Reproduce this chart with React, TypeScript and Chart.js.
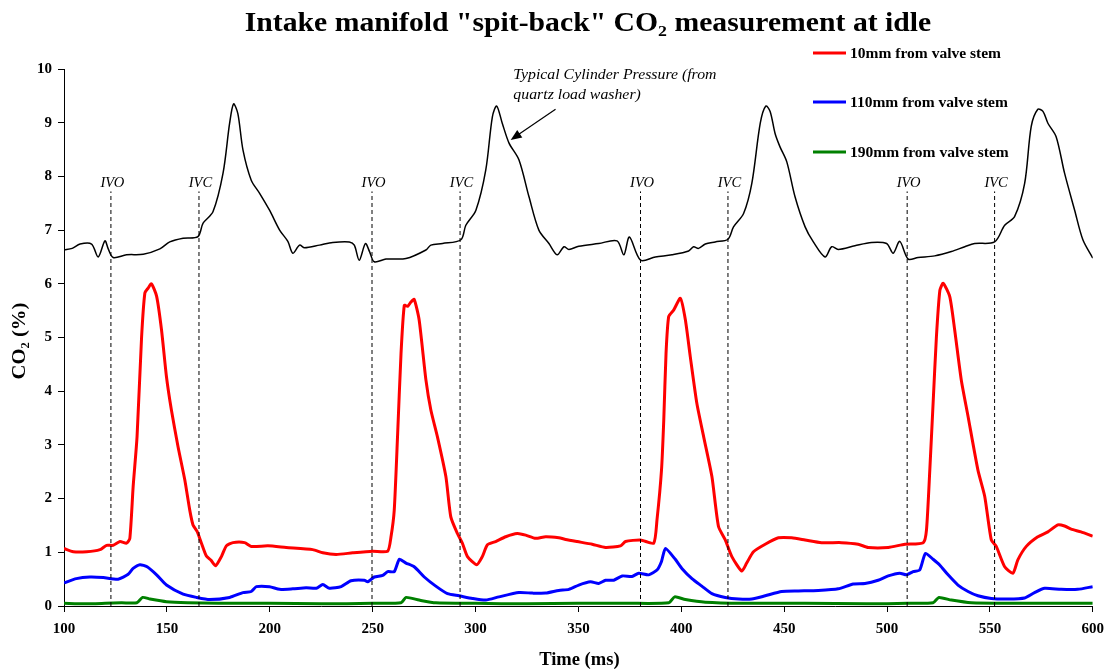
import React, { useEffect, useRef } from "react";
import { Chart, registerables } from "chart.js";

Chart.register(...registerables);

const FONT = '"Liberation Serif", "Times New Roman", serif';

const TITLE = 'Intake manifold "spit-back" CO\u2082 measurement at idle';
const X_TITLE = "Time (ms)";
const Y_TITLE = "CO\u2082 (%)";
const SERIES_NAMES = ["10mm from valve stem", "110mm from valve stem", "190mm from valve stem"];
const SERIES_COLORS = ["#ff0000", "#0000ff", "#008000"];
const ANNOTATION_LINES = ["Typical Cylinder Pressure (from", "quartz load washer)"];

const X_MIN = 100;
const X_MAX = 600;
const X_STEP = 50;
const Y_MIN = 0;
const Y_MAX = 10;
const Y_STEP = 1;

// Valve event markers (ms)
const IVO_TIMES = [122.8, 249.7, 380.2, 509.8];
const IVC_TIMES = [165.6, 292.5, 422.7, 552.3];
const MARKER_TOP = 7.72;

// Annotation anchor and arrow (data coordinates)
const ANNOT_T = 318.4;
const ANNOT_V = 9.81;
const ARROW_FROM = [338.9, 9.25];
const ARROW_TO = [317.1, 8.68];

// Typical cylinder pressure trace (plotted on the same axis)
const pressureT = [100, 104, 107.8, 113.4, 116.6, 119.9, 121.5, 123.9, 130.4, 138.5, 146.6, 151.4, 157.9, 165.1, 167.6, 172.4, 177.3, 180.5, 182.4, 184.5, 187, 191, 195, 199.9, 204.8, 208.8, 211.2, 214.5, 216.9, 224.2, 230.6, 238.7, 241.1, 243.5, 246.5, 248.5, 250.8, 256.5, 266.2, 275.9, 278.3, 284, 292.9, 295.3, 300.2, 305, 308.2, 310.3, 313, 316.3, 321.1, 326, 330.8, 335.7, 339.7, 343, 345.4, 350.2, 359.9, 368.8, 372.1, 374.8, 380.2, 387.4, 395.5, 403.6, 406, 408.4, 411.7, 416.5, 422.7, 425.4, 430.3, 434.3, 438.4, 441.1, 443.2, 445.6, 448, 451.3, 455.3, 460.2, 464.2, 469.9, 473.1, 476.3, 484.4, 492.5, 499.8, 503, 506.2, 510.3, 515.1, 523.2, 531.3, 537.8, 542.6, 552.3, 557.2, 562, 566.9, 570.1, 573.3, 575.8, 578.2, 582.2, 586.3, 591.2, 595.2, 600];
const pressureV = [6.63, 6.66, 6.74, 6.74, 6.5, 6.8, 6.65, 6.49, 6.54, 6.55, 6.65, 6.78, 6.85, 6.88, 7.13, 7.34, 8.06, 8.99, 9.35, 9.17, 8.49, 7.93, 7.69, 7.37, 7.0, 6.79, 6.57, 6.72, 6.67, 6.72, 6.77, 6.78, 6.72, 6.44, 6.75, 6.6, 6.41, 6.46, 6.47, 6.63, 6.72, 6.75, 6.82, 7.09, 7.37, 8.12, 9.11, 9.31, 8.99, 8.62, 8.31, 7.62, 7.0, 6.75, 6.54, 6.69, 6.64, 6.7, 6.75, 6.8, 6.54, 6.87, 6.44, 6.5, 6.54, 6.61, 6.69, 6.66, 6.74, 6.78, 6.83, 7.06, 7.31, 7.87, 8.99, 9.31, 9.21, 8.8, 8.55, 8.27, 7.62, 7.06, 6.78, 6.5, 6.69, 6.64, 6.71, 6.77, 6.75, 6.57, 6.79, 6.46, 6.49, 6.52, 6.6, 6.69, 6.75, 6.78, 7.09, 7.25, 7.87, 8.93, 9.25, 9.21, 8.99, 8.74, 8.06, 7.37, 6.82, 6.48];

// CO2 at 10mm from valve stem
const red10T = [100, 104.5, 111, 117.5, 120.7, 123.9, 127.2, 130.4, 132, 133.6, 135.5, 137.7, 139.3, 140.9, 142.5, 145, 147.4, 149.8, 152.2, 155.4, 158.7, 161.1, 162.7, 164.7, 166.8, 169.2, 171.5, 173.7, 176.5, 178.9, 182.1, 187.8, 191, 199.1, 208, 220.9, 225.8, 232.3, 240.3, 250, 257.3, 258.9, 260.5, 262.1, 263.8, 265.4, 267, 268.6, 270.2, 272.6, 275.9, 278.3, 281.5, 285.6, 288, 291.2, 293.6, 296.1, 300.6, 303.3, 305.8, 309.8, 314.7, 320.3, 324.4, 329.2, 334.1, 340.5, 343.8, 349.4, 356.7, 363.2, 370.5, 372.9, 380.2, 386.6, 388.2, 390.4, 391.5, 392.6, 393.9, 396.3, 399.6, 402, 404.4, 407.6, 410.9, 414.9, 418.1, 421.4, 424.6, 429.4, 431.8, 435.1, 440.8, 447.2, 453.7, 460.2, 468.2, 477.9, 486, 490.9, 500.6, 508.7, 517.6, 519.2, 520.8, 522.4, 524, 525.7, 527.3, 530.5, 532.9, 536.1, 539.4, 544.2, 547.5, 550.7, 553.1, 557.2, 561.2, 563.6, 567.7, 573.3, 578.2, 583, 586.3, 589.5, 594.3, 600];
const red10V = [1.07, 1.01, 1.01, 1.05, 1.13, 1.13, 1.2, 1.17, 1.26, 2.22, 3.15, 5.0, 5.83, 5.92, 6.0, 5.77, 5.14, 4.27, 3.65, 2.97, 2.35, 1.79, 1.51, 1.39, 1.17, 0.93, 0.85, 0.75, 0.92, 1.12, 1.18, 1.18, 1.11, 1.12, 1.09, 1.05, 0.99, 0.96, 0.99, 1.02, 1.02, 1.28, 1.78, 3.15, 4.7, 5.6, 5.58, 5.66, 5.71, 5.33, 4.21, 3.65, 3.15, 2.41, 1.66, 1.35, 1.17, 0.92, 0.77, 0.92, 1.14, 1.2, 1.29, 1.35, 1.32, 1.26, 1.29, 1.27, 1.24, 1.2, 1.15, 1.09, 1.12, 1.2, 1.23, 1.17, 1.6, 2.53, 3.46, 4.7, 5.39, 5.51, 5.73, 5.33, 4.64, 3.77, 3.15, 2.41, 1.48, 1.23, 0.92, 0.65, 0.8, 1.01, 1.15, 1.27, 1.27, 1.23, 1.18, 1.18, 1.15, 1.09, 1.09, 1.15, 1.18, 1.42, 2.53, 3.77, 5.0, 5.88, 6.01, 5.76, 5.14, 4.21, 3.53, 2.53, 2.04, 1.23, 1.11, 0.73, 0.61, 0.86, 1.11, 1.29, 1.38, 1.51, 1.49, 1.43, 1.38, 1.3];

// CO2 at 110mm from valve stem
const blue110T = [100, 106, 112.6, 119.1, 126.3, 131.2, 133.6, 136.9, 140.4, 145, 149.8, 157.9, 164.4, 170.8, 180.5, 187, 191, 193.5, 199.9, 204.8, 211.2, 217.7, 222.6, 225.8, 229, 234.7, 239.5, 246, 247.6, 250.8, 254.9, 257.3, 260.5, 263, 266.2, 270.2, 275.1, 280.7, 286.4, 292, 298.5, 305, 311.4, 321.1, 327.6, 334.1, 340.5, 345.4, 350.2, 355.9, 359.9, 363.2, 367.2, 371.3, 376.1, 379.3, 384.2, 388.2, 390.4, 392.3, 397.1, 400.3, 405.2, 410, 414.9, 421.4, 427.9, 434.3, 440.8, 448.8, 456.9, 466.6, 476.3, 483.6, 489.3, 495.7, 500.6, 506.2, 509.5, 512.7, 515.9, 518.7, 522.4, 525.7, 529.7, 534.5, 539.4, 544.2, 550.7, 558.8, 566.9, 571.7, 576.6, 584.6, 592.7, 600];
const blue110V = [0.43, 0.51, 0.54, 0.53, 0.5, 0.59, 0.7, 0.77, 0.73, 0.58, 0.39, 0.22, 0.16, 0.12, 0.16, 0.25, 0.27, 0.36, 0.36, 0.31, 0.32, 0.34, 0.33, 0.4, 0.33, 0.36, 0.47, 0.48, 0.45, 0.54, 0.57, 0.64, 0.64, 0.87, 0.8, 0.73, 0.54, 0.37, 0.23, 0.19, 0.14, 0.11, 0.17, 0.25, 0.24, 0.24, 0.29, 0.31, 0.39, 0.45, 0.42, 0.48, 0.48, 0.56, 0.55, 0.61, 0.58, 0.67, 0.83, 1.07, 0.87, 0.7, 0.51, 0.37, 0.23, 0.16, 0.13, 0.13, 0.19, 0.27, 0.28, 0.29, 0.32, 0.41, 0.42, 0.48, 0.56, 0.61, 0.58, 0.64, 0.67, 0.98, 0.87, 0.76, 0.58, 0.39, 0.27, 0.19, 0.14, 0.13, 0.15, 0.25, 0.33, 0.31, 0.31, 0.36];

// CO2 at 190mm from valve stem
const green190T = [100, 110, 120, 128, 135.4, 138.2, 141.8, 149.8, 160, 175, 200, 225, 250, 263.8, 266.2, 272.6, 280.7, 300, 325, 350, 375, 394, 396.8, 402, 411.7, 430, 460, 490, 510, 522.4, 525.2, 531.3, 541, 560, 580, 600];
const green190V = [0.05, 0.04, 0.05, 0.06, 0.06, 0.16, 0.13, 0.08, 0.06, 0.05, 0.05, 0.04, 0.05, 0.06, 0.16, 0.11, 0.06, 0.05, 0.04, 0.05, 0.05, 0.06, 0.17, 0.12, 0.07, 0.05, 0.05, 0.04, 0.05, 0.06, 0.16, 0.11, 0.06, 0.05, 0.05, 0.05];

const toPoints = (t: number[], v: number[]) => t.map((tt, i) => ({ x: tt, y: v[i] }));

// Draw text with a horizontal stretch factor (the reference glyphs are slightly wide)
function fillStretched(ctx: CanvasRenderingContext2D, text: string, x: number, y: number, sx: number) {
  ctx.save();
  ctx.translate(x, y);
  ctx.scale(sx, 1);
  ctx.fillText(text, 0, 0);
  ctx.restore();
}

const overlayPlugin = {
  id: "overlay",
  afterDraw(chart: any) {
    const { ctx } = chart;
    const xs = chart.scales.x;
    const ys = chart.scales.y;
    ctx.save();
    ctx.fillStyle = "#000";

    // Title
    ctx.font = `bold 27px ${FONT}`;
    ctx.textAlign = "center";
    ctx.textBaseline = "alphabetic";
    fillStretched(ctx, TITLE, 588, 31, 1.1);

    // Axis titles
    ctx.font = `bold 18px ${FONT}`;
    fillStretched(ctx, X_TITLE, (chart.chartArea.left + chart.chartArea.right) / 2 + 1, 665, 1.03);
    ctx.save();
    ctx.translate(20, 341);
    ctx.rotate(-Math.PI / 2);
    ctx.font = `bold 18px ${FONT}`;
    ctx.textBaseline = "middle";
    fillStretched(ctx, Y_TITLE, 0, 0, 1.15);
    ctx.restore();

    // Valve markers labels
    ctx.font = `italic 14px ${FONT}`;
    ctx.textAlign = "center";
    ctx.textBaseline = "alphabetic";
    const topPx = ys.getPixelForValue(MARKER_TOP);
    IVO_TIMES.forEach((t) => fillStretched(ctx, "IVO", xs.getPixelForValue(t) + 1.5, topPx - 4, 1.04));
    IVC_TIMES.forEach((t) => fillStretched(ctx, "IVC", xs.getPixelForValue(t) + 1.5, topPx - 4, 1.04));

    // Annotation
    ctx.textAlign = "left";
    const ax = xs.getPixelForValue(ANNOT_T);
    const ay = ys.getPixelForValue(ANNOT_V);
    ANNOTATION_LINES.forEach((line, i) => fillStretched(ctx, line, ax, ay + i * 20, 1.13));

    // Arrow
    const x1 = xs.getPixelForValue(ARROW_FROM[0]);
    const y1 = ys.getPixelForValue(ARROW_FROM[1]);
    const x2 = xs.getPixelForValue(ARROW_TO[0]);
    const y2 = ys.getPixelForValue(ARROW_TO[1]);
    const ang = Math.atan2(y2 - y1, x2 - x1);
    const headLen = 11;
    const headW = 4.5;
    ctx.strokeStyle = "#000";
    ctx.lineWidth = 1.2;
    ctx.beginPath();
    ctx.moveTo(x1, y1);
    ctx.lineTo(x2 - Math.cos(ang) * (headLen - 2), y2 - Math.sin(ang) * (headLen - 2));
    ctx.stroke();
    ctx.beginPath();
    ctx.moveTo(x2, y2);
    ctx.lineTo(
      x2 - Math.cos(ang) * headLen - Math.sin(ang) * headW,
      y2 - Math.sin(ang) * headLen + Math.cos(ang) * headW
    );
    ctx.lineTo(
      x2 - Math.cos(ang) * headLen + Math.sin(ang) * headW,
      y2 - Math.sin(ang) * headLen - Math.cos(ang) * headW
    );
    ctx.closePath();
    ctx.fill();

    // Legend
    const legendY = [53, 102, 152];
    ctx.font = `bold 15px ${FONT}`;
    ctx.textAlign = "left";
    ctx.textBaseline = "middle";
    SERIES_NAMES.forEach((name, i) => {
      ctx.strokeStyle = SERIES_COLORS[i];
      ctx.lineWidth = 3;
      ctx.beginPath();
      ctx.moveTo(813, legendY[i]);
      ctx.lineTo(846, legendY[i]);
      ctx.stroke();
      ctx.fillStyle = "#000";
      fillStretched(ctx, name, 850, legendY[i] + 1, 1.035);
    });

    ctx.restore();
  },
};

export default function App() {
  const canvasRef = useRef<HTMLCanvasElement | null>(null);

  useEffect(() => {
    if (!canvasRef.current) return;
    const markerSets = [...IVO_TIMES, ...IVC_TIMES].map((t) => ({
      label: "marker",
      data: [
        { x: t, y: 0 },
        { x: t, y: MARKER_TOP },
      ],
      borderColor: "#000",
      borderWidth: 1,
      borderDash: [4, 3],
      pointRadius: 0,
      fill: false,
    }));

    const chart = new Chart(canvasRef.current, {
      type: "line",
      data: {
        datasets: [
          ...markerSets,
          {
            label: "Pressure",
            data: toPoints(pressureT, pressureV),
            borderColor: "#000",
            borderWidth: 1.5,
            pointRadius: 0,
            tension: 0.3,
            fill: false,
          },
          {
            label: SERIES_NAMES[2],
            data: toPoints(green190T, green190V),
            borderColor: SERIES_COLORS[2],
            borderWidth: 3,
            pointRadius: 0,
            tension: 0.2,
            fill: false,
          },
          {
            label: SERIES_NAMES[1],
            data: toPoints(blue110T, blue110V),
            borderColor: SERIES_COLORS[1],
            borderWidth: 3,
            pointRadius: 0,
            tension: 0.2,
            fill: false,
          },
          {
            label: SERIES_NAMES[0],
            data: toPoints(red10T, red10V),
            borderColor: SERIES_COLORS[0],
            borderWidth: 3,
            pointRadius: 0,
            tension: 0.2,
            fill: false,
          },
        ] as any,
      },
      options: {
        responsive: false,
        animation: false,
        layout: { padding: { top: 69, right: 17, left: 0, bottom: 0 } },
        plugins: {
          legend: { display: false },
          tooltip: { enabled: false },
          title: { display: false },
        },
        scales: {
          x: {
            type: "linear",
            min: X_MIN,
            max: X_MAX,
            afterFit: (s: any) => {
              s.height = 65;
            },
            ticks: {
              stepSize: X_STEP,
              color: "#000",
              padding: 8,
              font: { family: FONT, size: 15, weight: "bold" },
              maxRotation: 0,
            },
            grid: {
              display: true,
              drawOnChartArea: false,
              drawTicks: true,
              tickLength: 6,
              color: "#000",
            },
            border: { display: true, color: "#000", width: 1 },
          },
          y: {
            type: "linear",
            min: Y_MIN,
            max: Y_MAX,
            afterFit: (s: any) => {
              s.width = 64;
            },
            ticks: {
              stepSize: Y_STEP,
              color: "#000",
              padding: 6,
              font: { family: FONT, size: 15, weight: "bold" },
            },
            grid: {
              display: true,
              drawOnChartArea: false,
              drawTicks: true,
              tickLength: 6,
              color: "#000",
            },
            border: { display: true, color: "#000", width: 1 },
          },
        },
      } as any,
      plugins: [overlayPlugin],
    });
    return () => chart.destroy();
  }, []);

  return (
    <div style={{ position: "fixed", left: 0, top: 0, width: 1112, height: 671, background: "#fff" }}>
      <canvas ref={canvasRef} width={1112} height={671} style={{ width: 1112, height: 671 }} />
    </div>
  );
}
